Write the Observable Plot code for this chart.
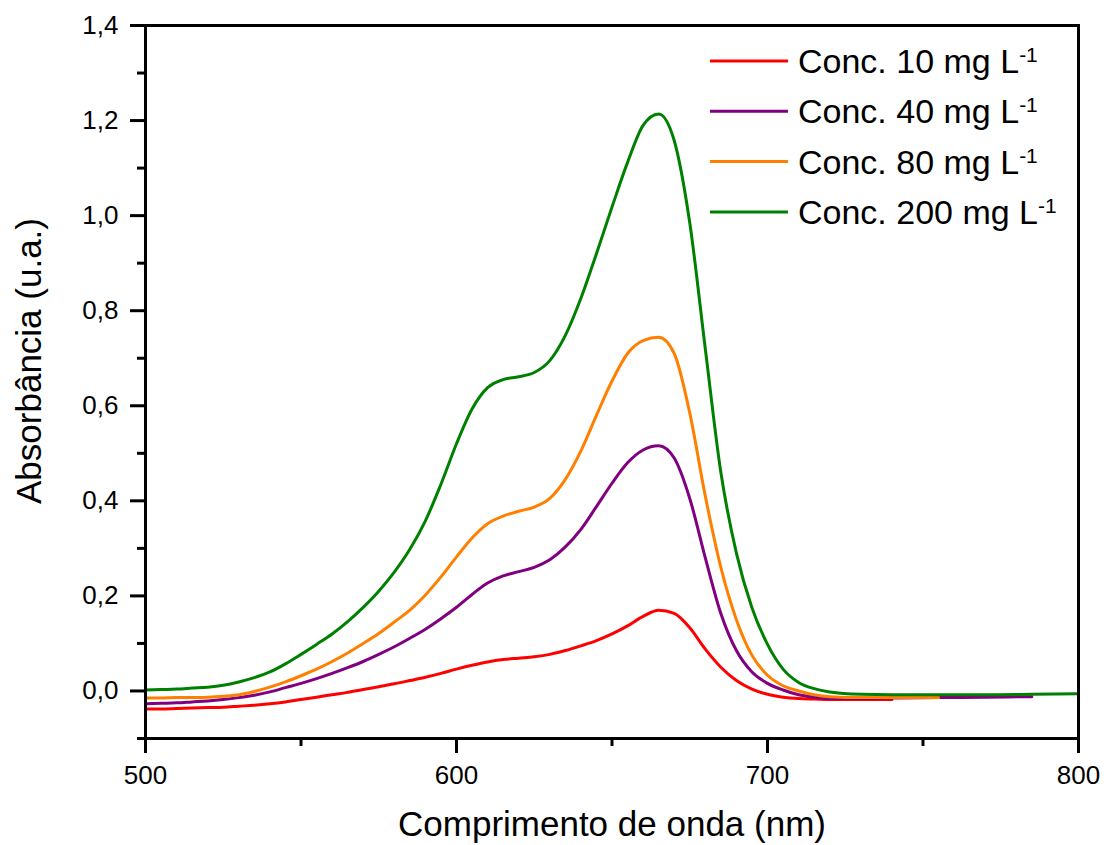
<!DOCTYPE html>
<html>
<head>
<meta charset="utf-8">
<script src="https://cdn.jsdelivr.net/npm/d3@7"></script>
<script src="https://cdn.jsdelivr.net/npm/@observablehq/plot@0.6"></script>
<style>
  html, body { margin: 0; padding: 0; background: white; }
</style>
</head>
<body>
<div id="chart"></div>
<script>
// Wavelength grid (nm)
const wavelengths = [500, 505, 510, 515, 520, 525, 530, 535, 540, 545, 550, 555, 560, 565, 570, 575, 580, 585, 590, 595, 600, 605, 610, 615, 620, 625, 630, 635, 640, 645, 650, 655, 660, 665, 670, 675, 680, 685, 690, 695, 700, 705, 710, 715, 720, 730, 740, 755, 770, 785, 800];

// Absorbance values (null = no data)
const conc10 = [-0.038, -0.038, -0.037, -0.036, -0.035, -0.034, -0.032, -0.030, -0.027, -0.023, -0.018, -0.013, -0.008, -0.003, 0.003, 0.009, 0.015, 0.022, 0.029, 0.037, 0.046, 0.054, 0.061, 0.066, 0.069, 0.072, 0.077, 0.085, 0.095, 0.106, 0.120, 0.137, 0.157, 0.170, 0.163, 0.133, 0.088, 0.050, 0.022, 0.004, -0.007, -0.013, -0.016, -0.017, -0.018, -0.018, -0.018, null, null, null, null];
const conc40 = [-0.027, -0.026, -0.025, -0.023, -0.021, -0.018, -0.014, -0.009, -0.002, 0.007, 0.016, 0.026, 0.037, 0.049, 0.062, 0.077, 0.093, 0.111, 0.130, 0.152, 0.176, 0.203, 0.227, 0.242, 0.251, 0.260, 0.276, 0.303, 0.340, 0.388, 0.437, 0.480, 0.507, 0.516, 0.490, 0.405, 0.280, 0.163, 0.085, 0.040, 0.016, 0.002, -0.008, -0.013, -0.016, -0.016, -0.015, -0.014, -0.013, -0.012, null];
const conc80 = [-0.015, -0.015, -0.014, -0.014, -0.013, -0.011, -0.008, -0.001, 0.008, 0.019, 0.032, 0.046, 0.062, 0.080, 0.100, 0.121, 0.145, 0.170, 0.202, 0.240, 0.282, 0.322, 0.352, 0.368, 0.378, 0.387, 0.405, 0.445, 0.505, 0.580, 0.652, 0.710, 0.737, 0.744, 0.710, 0.585, 0.410, 0.260, 0.150, 0.075, 0.033, 0.011, 0.000, -0.008, -0.012, -0.014, -0.014, -0.014, null, null, null];
const conc200 = [0.002, 0.003, 0.004, 0.006, 0.008, 0.012, 0.019, 0.028, 0.040, 0.057, 0.077, 0.098, 0.120, 0.146, 0.176, 0.210, 0.250, 0.298, 0.358, 0.435, 0.520, 0.593, 0.638, 0.655, 0.661, 0.670, 0.695, 0.748, 0.826, 0.920, 1.018, 1.112, 1.190, 1.214, 1.158, 0.985, 0.720, 0.460, 0.290, 0.175, 0.098, 0.046, 0.018, 0.005, -0.002, -0.007, -0.008, -0.008, -0.008, -0.007, -0.006];

const seriesLabels = ["Conc. 10 mg L", "Conc. 40 mg L", "Conc. 80 mg L", "Conc. 200 mg L"];
const seriesValues = [conc10, conc40, conc80, conc200];
const seriesColors = ["#ff0000", "#800080", "#ff8000", "#008000"];

const xMajorTicks = [500, 600, 700, 800];
const xMinorTicks = [550, 650, 750];
const yMajorTicks = [0, 0.2, 0.4, 0.6, 0.8, 1.0, 1.2, 1.4];
const yMinorTicks = [-0.1, 0.1, 0.3, 0.5, 0.7, 0.9, 1.1, 1.3];

const xTitle = "Comprimento de onda (nm)";
const yTitle = "Absorbância (u.a.)";

const rows = [];
seriesValues.forEach((vals, i) => {
  vals.forEach((v, j) => {
    if (v !== null) rows.push({series: seriesLabels[i], wl: wavelengths[j], a: v});
  });
});

const fmtY = d => d.toFixed(1).replace(".", ",");
const blank = () => "";

const chart = Plot.plot({
  width: 1107,
  height: 845,
  marginLeft: 145,
  marginRight: 29,
  marginTop: 25,
  marginBottom: 107,
  style: {fontFamily: "'Liberation Sans', Arial, sans-serif", fontSize: "26px", color: "black", background: "white"},
  x: {domain: [500, 800]},
  y: {domain: [-0.1, 1.4]},
  color: {domain: seriesLabels, range: seriesColors},
  marks: [
    Plot.axisX({ticks: xMajorTicks, tickSize: 15, tickPadding: 12, tickFormat: d => String(d), strokeWidth: 3, label: null}),
    Plot.axisX({ticks: xMinorTicks, tickSize: 8, tickFormat: blank, strokeWidth: 3, label: null}),
    Plot.axisY({ticks: yMajorTicks, tickSize: 15, tickPadding: 12, tickFormat: fmtY, strokeWidth: 3, label: null}),
    Plot.axisY({ticks: yMinorTicks, tickSize: 8, tickFormat: blank, strokeWidth: 3, label: null}),
    Plot.line(rows, {x: "wl", y: "a", z: "series", stroke: "series", strokeWidth: 3, curve: "monotone-x"}),
    Plot.frame({stroke: "black", strokeWidth: 3}),
    Plot.text([xTitle], {text: d => d, frameAnchor: "bottom", textAnchor: "middle", lineAnchor: "middle", dy: 86, fontSize: 35}),
    Plot.text([yTitle], {text: d => d, frameAnchor: "left", textAnchor: "middle", lineAnchor: "middle", rotate: -90, dx: -116, dy: -21, fontSize: 35})
  ]
});

document.getElementById("chart").appendChild(chart);

// Legend inside the plot, top right
const svg = d3.select(chart);
const lg = svg.append("g")
  .attr("font-family", "'Liberation Sans', Arial, sans-serif")
  .attr("text-anchor", "start");
seriesLabels.forEach((lab, i) => {
  const y = 61 + i * 50.3;
  lg.append("line")
    .attr("x1", 710).attr("x2", 788).attr("y1", y).attr("y2", y)
    .attr("stroke", seriesColors[i]).attr("stroke-width", 3);
  const t = lg.append("text").attr("x", 798).attr("y", y + 12)
    .attr("font-size", 34).attr("fill", "black").attr("text-anchor", "start");
  t.append("tspan").text(lab);
  t.append("tspan").attr("font-size", 21).attr("dy", -11).text("-1");
});
</script>
</body>
</html>
